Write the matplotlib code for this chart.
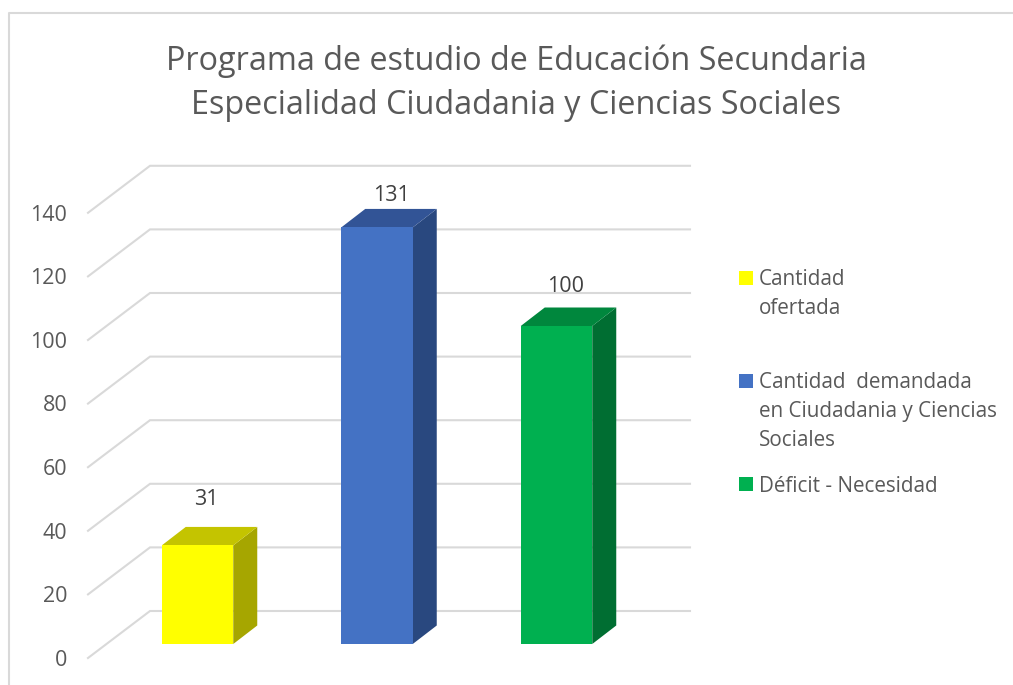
import numpy as np
import matplotlib
matplotlib.use("Agg")
import matplotlib.pyplot as plt
from matplotlib.patches import Polygon, Rectangle

W, H = 1013, 685

title_lines = ["Programa de estudio de Educación Secundaria",
               "Especialidad Ciudadania y Ciencias Sociales"]
categories = ["Cantidad\nofertada",
              "Cantidad  demandada\nen Ciudadania y Ciencias\nSociales",
              "Déficit - Necesidad"]
values = [31, 131, 100]
y_ticks = [0, 20, 40, 60, 80, 100, 120, 140]

colors = ["#FFFF00", "#4472C4", "#00B050"]
top_colors = ["#C4C400", "#325496", "#00873D"]
side_colors = ["#A6A600", "#29487F", "#006E32"]

plt.rcParams["font.family"] = ["Open Sans", "DejaVu Sans"]

# scales, in pixels of the picture
px_per_unit = 3.18
px_per_cat = 179.5
x0_px, y0_px = 197.5, 658  # first bar centre, front value 0

fig = plt.figure(figsize=(W / 100, H / 100), dpi=100)
ax = fig.add_axes([0, 0, 1, 1])
ax.set_xlim(-x0_px / px_per_cat, (W - x0_px) / px_per_cat)
ax.set_ylim(-(H - y0_px) / px_per_unit, y0_px / px_per_unit)
ax.axis("off")

# frame of the chart, only top and left are visible
fig.add_artist(plt.Line2D([1, 9 / W, 9 / W], [1 - 13 / H, 1 - 13 / H, 0], color="#D9D9D9", lw=1.5))

wall_dx = 62 / px_per_cat
wall_dy = 47 / px_per_unit
wall_left = (88 - x0_px) / px_per_cat
wall_right = (690 - x0_px) / px_per_cat
for v in y_ticks:
    ax.plot([wall_left, wall_left + wall_dx, wall_right], [v, v + wall_dy, v + wall_dy],
            color="#D9D9D9", lw=1.5, zorder=1, solid_joinstyle="miter")
    ax.annotate(str(v), (wall_left, v), xytext=(-15, -1.7), textcoords="offset points",
                ha="right", va="center", fontsize=15.5, color="#595959")

bar_w = 71.5 / px_per_cat
depth_x = 24 / px_per_cat
depth_y = 18.5 / px_per_unit
floor = 14 / px_per_unit
label_dx = [8.5, 14, 9]
label_dy = [46, 32, 40]

for i, v in enumerate(values):
    l, r = i - bar_w / 2, i + bar_w / 2
    b, t = floor, floor + v
    ax.add_patch(Polygon([(r, b), (r + depth_x, b + depth_y), (r + depth_x, t + depth_y), (r, t)],
                         fc=side_colors[i], ec="none", zorder=3))
    ax.add_patch(Polygon([(l, t), (r, t), (r + depth_x, t + depth_y), (l + depth_x, t + depth_y)],
                         fc=top_colors[i], ec="none", zorder=3))
    ax.add_patch(Rectangle((l, b), bar_w, v, fc=colors[i], ec="none", zorder=4))
    ax.annotate(str(v), (i, t), xytext=(label_dx[i] * 0.72, label_dy[i] * 0.72), textcoords="offset points",
                ha="center", va="center", fontsize=15.5, color="#404040", zorder=5)

fig.text(516 / W, 1 - 61 / H, title_lines[0], ha="center", va="center", fontsize=23.3, color="#595959")
fig.text(516 / W, 1 - 106 / H, title_lines[1], ha="center", va="center", fontsize=23.3, color="#595959")

# legend
legend_y = [280, 383, 486]
line_gap = 29
for c, name, y in zip(colors, categories, legend_y):
    fig.add_artist(Rectangle((739 / W, 1 - (y + 5) / H), 14 / W, 14 / H, fc=c, ec="none",
                             transform=fig.transFigure))
    for j, line in enumerate(name.split("\n")):
        fig.text(759 / W, 1 - (y + j * line_gap) / H, line, ha="left", va="center",
                 fontsize=14.9, color="#595959")

fig.savefig("out.png", dpi=100, facecolor="white")
